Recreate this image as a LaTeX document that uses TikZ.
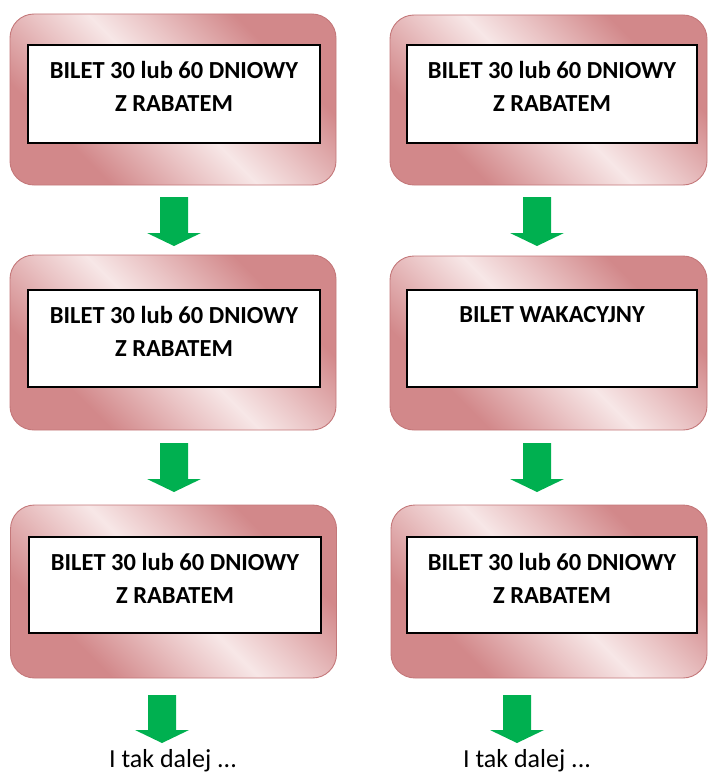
\documentclass[tikz,border=0pt]{standalone}
\usepackage{fontspec}
\setmainfont{Carlito}
\usetikzlibrary{calc}
\definecolor{boxdark}{RGB}{210,136,138}
\definecolor{boxmid}{RGB}{234,196,197}
\definecolor{boxlight}{RGB}{247,231,231}
\definecolor{boxline}{RGB}{196,120,122}
\definecolor{arrowgreen}{RGB}{0,176,80}
\pgfdeclareverticalshading{pinkband}{100bp}{color(0bp)=(boxdark); color(29bp)=(boxdark); color(42bp)=(boxmid); color(50bp)=(boxlight); color(58bp)=(boxmid); color(71bp)=(boxdark); color(100bp)=(boxdark)}
\tikzset{
  outerbox/.style={rectangle, rounded corners=24pt, draw=boxline, line width=0.9pt,
    shading=pinkband, shading angle=-45, inner sep=0pt, outer sep=0pt},
  innerbox/.style={rectangle, draw=black, fill=white, line width=1.6pt, inner sep=0pt, outer sep=0pt},
  boxtext/.style={font=\bfseries\fontsize{24.5}{33}\selectfont, align=center, anchor=north, inner sep=0pt},
  endtext/.style={font=\fontsize{26}{32}\selectfont, anchor=base, inner sep=0pt},
  pics/greenarrow/.style={code={
    \fill[arrowgreen] (-14,0) -- (14,0) -- (14,#1) -- (27,#1) -- (0,#1+13) -- (-27,#1) -- (-14,#1) -- cycle;}}
}
\begin{document}
\begin{tikzpicture}[x=1pt,y=-1pt]
\useasboundingbox (0,0) rectangle (708,776);
% outer boxes
\node[outerbox, minimum width=326pt, minimum height=171pt] (L1) at (173,99.5) {};
\node[outerbox, minimum width=326pt, minimum height=175pt] (L2) at (173,342.5) {};
\node[outerbox, minimum width=326pt, minimum height=173pt] (L3) at (173.5,591.5) {};
\node[outerbox, minimum width=317pt, minimum height=170pt] (R1) at (548.5,100) {};
\node[outerbox, minimum width=317pt, minimum height=174pt] (R2) at (548.5,343) {};
\node[outerbox, minimum width=316pt, minimum height=173pt] (R3) at (549,591.5) {};
% inner boxes
\node[innerbox, minimum width=292pt, minimum height=98pt] (LI1) at (174,94) {};
\node[innerbox, minimum width=292pt, minimum height=97pt] (LI2) at (174,338.5) {};
\node[innerbox, minimum width=292pt, minimum height=96pt] (LI3) at (175,585) {};
\node[innerbox, minimum width=290pt, minimum height=98pt] (RI1) at (552,94) {};
\node[innerbox, minimum width=290pt, minimum height=97pt] (RI2) at (552,338.5) {};
\node[innerbox, minimum width=290pt, minimum height=96pt] (RI3) at (552,585) {};
% texts
\node[boxtext] (tL1) at ($(LI1.north)+(0,16)$) {BILET 30 lub 60 DNIOWY\\Z RABATEM};
\node[boxtext] (tL2) at ($(LI2.north)+(0,16)$) {BILET 30 lub 60 DNIOWY\\Z RABATEM};
\node[boxtext] (tL3) at ($(LI3.north)+(0,16)$) {BILET 30 lub 60 DNIOWY\\Z RABATEM};
\node[boxtext] (tR1) at ($(RI1.north)+(0,16)$) {BILET 30 lub 60 DNIOWY\\Z RABATEM};
\node[boxtext] (tR2) at ($(RI2.north)+(0,16)$) {BILET WAKACYJNY};
\node[boxtext] (tR3) at ($(RI3.north)+(0,16)$) {BILET 30 lub 60 DNIOWY\\Z RABATEM};
% arrows
\coordinate (aL1) at ($(L1.south)+(1,12)$);
\coordinate (aL2) at ($(L2.south)+(1,13)$);
\coordinate (aL3) at ($(L3.south)+(-11.5,17)$);
\coordinate (aR1) at ($(R1.south)+(-11.5,12)$);
\coordinate (aR2) at ($(R2.south)+(-11.5,13)$);
\coordinate (aR3) at ($(R3.south)+(-32,17)$);
\pic at (aL1) {greenarrow=36};
\pic at (aL2) {greenarrow=36};
\pic at (aL3) {greenarrow=35};
\pic at (aR1) {greenarrow=36};
\pic at (aR2) {greenarrow=36};
\pic at (aR3) {greenarrow=35};
% end texts
\node[endtext] (eL) at (173,767) {I tak dalej ...};
\node[endtext] (eR) at (527,767) {I tak dalej ...};
\end{tikzpicture}
\end{document}
